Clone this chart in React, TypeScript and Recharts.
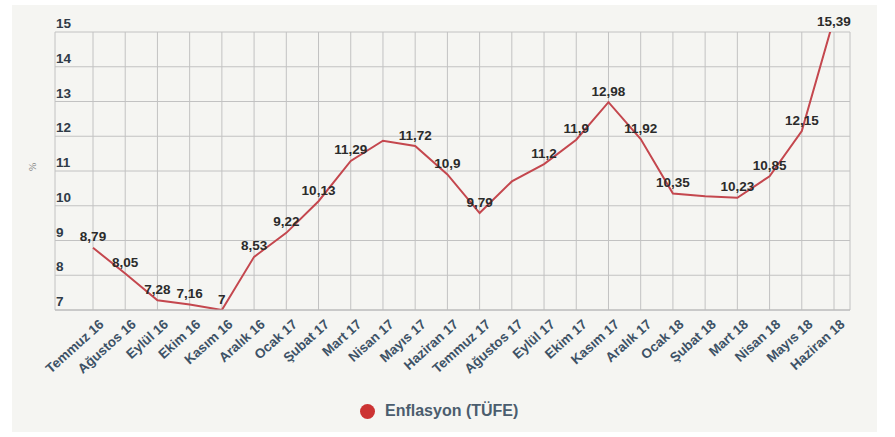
import { LineChart, Line, XAxis, YAxis, CartesianGrid, LabelList } from 'recharts';

const months = [
  'Temmuz 16', 'Ağustos 16', 'Eylül 16', 'Ekim 16', 'Kasım 16', 'Aralık 16',
  'Ocak 17', 'Şubat 17', 'Mart 17', 'Nisan 17', 'Mayıs 17', 'Haziran 17',
  'Temmuz 17', 'Ağustos 17', 'Eylül 17', 'Ekim 17', 'Kasım 17', 'Aralık 17',
  'Ocak 18', 'Şubat 18', 'Mart 18', 'Nisan 18', 'Mayıs 18', 'Haziran 18',
];

const tufe = [
  8.79, 8.05, 7.28, 7.16, 7, 8.53,
  9.22, 10.13, 11.29, 11.87, 11.72, 10.9,
  9.79, 10.7, 11.2, 11.9, 12.98, 11.92,
  10.35, 10.27, 10.23, 10.85, 12.15, 15.39,
];

// shown value labels ('' = no label in the original)
const valueLabels = [
  '8,79', '8,05', '7,28', '7,16', '7', '8,53',
  '9,22', '10,13', '11,29', '', '11,72', '10,9',
  '9,79', '', '11,2', '11,9', '12,98', '11,92',
  '10,35', '', '10,23', '10,85', '12,15', '15,39',
];

const yTicks = [7, 8, 9, 10, 11, 12, 13, 14, 15];

const data = months.map((m, i) => ({ month: m, value: tufe[i], label: valueLabels[i] }));

const MARGIN = { top: 27, right: 27, left: 0, bottom: 62 };
const LINE_COLOR = '#c4474e';
const FONT = '"Liberation Sans", Arial, sans-serif';

function YTick(props: any) {
  const { x, y, payload } = props;
  return (
    <text x={x + 9} y={y - 4} textAnchor="start" fontFamily={FONT} fontWeight={700} fontSize={13.5} fill="#2f3b48">
      {payload.value}
    </text>
  );
}

function XTick(props: any) {
  const { x, y, payload } = props;
  return (
    <g transform={`translate(${x + 5},${y})`}>
      <text transform="rotate(-42)" textAnchor="end" dy={10} fontFamily={FONT} fontWeight={700} fontSize={13.5} fill="#3d5266">
        {payload.value}
      </text>
    </g>
  );
}

function ValueLabel(props: any) {
  const { x, y, index } = props;
  const text = valueLabels[index];
  if (!text) return null;
  const py = Math.max(y, MARGIN.top);
  return (
    <text x={x} y={py - 10} textAnchor="middle" dominantBaseline="middle" fontFamily={FONT} fontWeight={700} fontSize={13.5} fill="#2b2b2b">
      {text}
    </text>
  );
}

export default function App() {
  return (
    <div style={{ width: 895, height: 437, background: '#ffffff', position: 'relative', overflow: 'hidden' }}>
      <style>{'body{margin:0}'}</style>
      <div style={{ position: 'absolute', left: 12, top: 5, width: 865, height: 427, background: '#f5f5f2' }}>
        <LineChart width={865} height={427} data={data} margin={MARGIN}>
          <CartesianGrid stroke="#c2c2c2" strokeWidth={1} />
          <XAxis
            dataKey="month"
            interval={0}
            padding={{ left: 38, right: 16 }}
            axisLine={{ stroke: '#b8b8b8' }}
            tickLine={false}
            tick={<XTick />}
            height={60}
          />
          <YAxis
            domain={[7, 15]}
            ticks={yTicks}
            allowDataOverflow
            width={43}
            axisLine={false}
            tickLine={false}
            tick={<YTick />}
            label={{ value: '%', angle: -90, position: 'insideLeft', offset: 20, fill: '#7a7a7a', fontSize: 10 }}
          />
          <Line
            type="linear"
            dataKey="value"
            stroke={LINE_COLOR}
            strokeWidth={2}
            dot={false}
            activeDot={false}
            isAnimationActive={false}
          >
            <LabelList dataKey="label" content={<ValueLabel />} />
          </Line>
        </LineChart>
        <div
          style={{
            position: 'absolute',
            left: 348,
            top: 397,
            display: 'flex',
            alignItems: 'center',
            fontFamily: FONT,
            fontWeight: 700,
            fontSize: 16,
            color: '#4b5d6e',
          }}
        >
          <span style={{ width: 15, height: 15, borderRadius: '50%', background: '#cc3333', marginRight: 10, display: 'inline-block' }} />
          Enflasyon (TÜFE)
        </div>
      </div>
    </div>
  );
}
